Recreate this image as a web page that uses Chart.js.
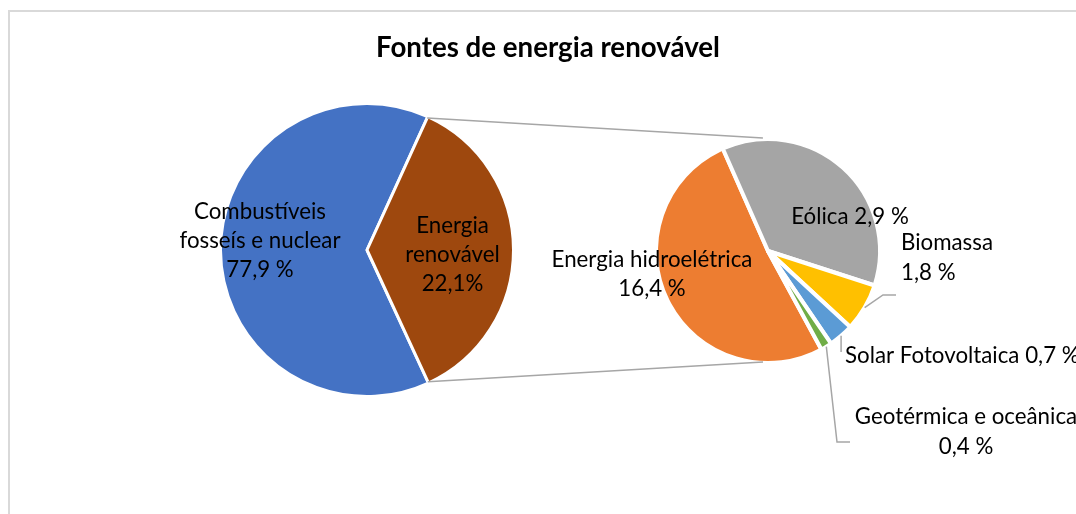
<!DOCTYPE html>
<html>
<head>
<meta charset="utf-8">
<script src="https://cdn.jsdelivr.net/npm/chart.js@4.4.1/dist/chart.umd.min.js"></script>
<style>
  html, body { margin: 0; padding: 0; background: #ffffff; }
  #stage { position: relative; width: 1076px; height: 514px; overflow: hidden; background: #ffffff; }
  #frame { position: absolute; left: 8px; top: 10px; width: 1200px; height: 700px; border: 2px solid #d9d9d9; box-sizing: border-box; }
  canvas { position: absolute; }
  #overlay { left: 0; top: 0; pointer-events: none; }
</style>
</head>
<body>
<div id="stage">
  <div id="frame"></div>
  <canvas id="mainPie" width="300" height="300" style="left:217px;top:100px"></canvas>
  <canvas id="subPie" width="240" height="240" style="left:648px;top:131px"></canvas>
  <canvas id="overlay" width="1076" height="514"></canvas>
</div>
<script>
// ---------------- DATA ----------------
const chartTitle = "Fontes de energia renovável";

// main pie
const mainCategories = ["Combustíveis fosseís e nuclear", "Energia renovável"];
const mainShares = [63.7, 36.3];                 // slice sizes as drawn in the picture
const mainLabelValues = ["77,9 %", "22,1%"];      // values printed in the labels

// secondary pie (breakdown of "Energia renovável")
const subCategories = ["Energia hidroelétrica", "Eólica", "Biomassa", "Solar Fotovoltaica", "Geotérmica e oceânica"];
const subShares = [51.3, 36.6, 6.9, 3.6, 1.6];    // slice sizes as drawn in the picture
const subLabelValues = ["16,4 %", "2,9 %", "1,8 %", "0,7 %", "0,4 %"];

// ---------------- STYLE / LAYOUT ----------------
const mainColors = ["#4472C4", "#9E480E"];
const subColors = ["#ED7D31", "#A5A5A5", "#FFC000", "#5B9BD5", "#70AD47"];
const lineColor = "#A6A6A6";
const textColor = "#000000";
const FONT = "Lato";

const MAIN_BORDER = 3, SUB_BORDER = 4;
const MAIN_R = 145, SUB_R = 110;   // visible radii

// label layout, offsets relative to each pie centre (px)
// lines: how the label text is split: [wordsOfNameOnLine1, ...], value appended where noted
const mainLabelLayout = [
  { dx: -107, dy: -38, lh: 29, align: "center", split: [1], valueOwnLine: true },
  { dx: 85.5, dy: -24, lh: 29, align: "center", split: [1], valueOwnLine: true }
];
const subLabelLayout = [
  { dx: -116, dy: 9, lh: 29, align: "center", split: [], valueOwnLine: true },
  { dx: 82, dy: -34, lh: 29, align: "center", split: [], valueOwnLine: false },
  { dx: 133, dy: -8, lh: 30, align: "left", split: [], valueOwnLine: true,
    leader: [[115, 44], [128, 44]] },
  { dx: 77, dy: 105, lh: 29, align: "left", split: [], valueOwnLine: false,
    leader: [["arc", 101]] },
  { dx: 198, dy: 166, lh: 30, align: "center", split: [], valueOwnLine: true,
    leader: [[69, 191], [82, 191]] }
];

function pieOptions(rotation, radius) {
  return {
    responsive: false,
    animation: false,
    events: [],
    rotation: rotation,
    radius: radius,
    layout: { padding: 0 },
    plugins: { legend: { display: false }, tooltip: { enabled: false }, title: { display: false } }
  };
}

const mainChart = new Chart(document.getElementById("mainPie"), {
  type: "pie",
  data: {
    labels: mainCategories,
    datasets: [{ data: mainShares, backgroundColor: mainColors, borderColor: "#ffffff", borderWidth: MAIN_BORDER }]
  },
  options: pieOptions(155.2, MAIN_R + MAIN_BORDER / 2)
});

const subChart = new Chart(document.getElementById("subPie"), {
  type: "pie",
  data: {
    labels: subCategories,
    datasets: [{ data: subShares, backgroundColor: subColors, borderColor: "#ffffff", borderWidth: SUB_BORDER }]
  },
  options: pieOptions(151.5, SUB_R + SUB_BORDER / 2)
});

// ---------------- OVERLAY (title, labels, connectors) ----------------
function fitSize(ctx, weight, sample, target) {
  ctx.font = weight + " 100px " + FONT;
  const w = ctx.measureText(sample).width;
  return 100 * target / w;
}

function pieInfo(chart, canvasId) {
  const el = document.getElementById(canvasId);
  const ox = el.offsetLeft, oy = el.offsetTop;
  const arcs = chart.getDatasetMeta(0).data.map(a => a.getProps(["x", "y", "startAngle", "endAngle", "outerRadius"], true));
  return { ox, oy, arcs, cx: ox + arcs[0].x, cy: oy + arcs[0].y };
}

function pointAt(info, ang, r) {
  return [info.cx + r * Math.cos(ang), info.cy + r * Math.sin(ang)];
}

function labelLines(name, value, lay) {
  const words = name.split(" ");
  const lines = [];
  let start = 0;
  lay.split.forEach(n => { lines.push(words.slice(start, start + n).join(" ")); start += n; });
  const rest = words.slice(start).join(" ");
  if (lay.valueOwnLine) { lines.push(rest); lines.push(value); }
  else { lines.push(rest + " " + value); }
  return lines;
}

function drawOverlay() {
  const cv = document.getElementById("overlay");
  const ctx = cv.getContext("2d");
  ctx.clearRect(0, 0, cv.width, cv.height);

  const m = pieInfo(mainChart, "mainPie");
  const s = pieInfo(subChart, "subPie");
  const mr = m.arcs[0].outerRadius - MAIN_BORDER / 2;
  const sr = s.arcs[0].outerRadius - SUB_BORDER / 2;

  // connectors between the "Energia renovável" slice and the secondary pie
  const other = m.arcs[1];
  const p1 = pointAt(m, other.startAngle, mr);
  const p2 = pointAt(m, other.endAngle, mr);
  const q1 = pointAt(s, -Math.PI / 2 - 0.045, sr + 3);
  const q2 = pointAt(s, Math.PI / 2 + 0.045, sr + 1);
  ctx.strokeStyle = lineColor;
  ctx.lineWidth = 1.5;
  ctx.beginPath();
  ctx.moveTo(p1[0], p1[1]); ctx.lineTo(q1[0], q1[1]);
  ctx.moveTo(p2[0], p2[1]); ctx.lineTo(q2[0], q2[1]);
  ctx.stroke();

  // leader lines
  ctx.lineWidth = 1.5;
  subLabelLayout.forEach((lay, i) => {
    if (!lay.leader) return;
    const a = s.arcs[i];
    const mid = (a.startAngle + a.endAngle) / 2;
    const start = pointAt(s, mid, sr + 2);
    ctx.beginPath();
    ctx.moveTo(start[0], start[1]);
    lay.leader.forEach(pt => {
      const x = pt[0] === "arc" ? start[0] : s.cx + pt[0];
      ctx.lineTo(x, s.cy + pt[1]);
    });
    ctx.stroke();
  });

  // title
  const titleSize = fitSize(ctx, "bold", chartTitle, 344);
  ctx.font = "bold " + titleSize.toFixed(2) + "px " + FONT;
  ctx.fillStyle = textColor;
  ctx.textAlign = "center";
  ctx.textBaseline = "alphabetic";
  ctx.fillText(chartTitle, 548, 57);

  // labels
  const labelSize = fitSize(ctx, "normal", "Energia hidroelétrica", 201);
  ctx.font = labelSize.toFixed(2) + "px " + FONT;
  ctx.textBaseline = "middle";
  const drawLabel = (info, name, value, lay) => {
    const lines = labelLines(name, value, lay);
    ctx.textAlign = lay.align;
    lines.forEach((t, k) => ctx.fillText(t, info.cx + lay.dx, info.cy + lay.dy + k * lay.lh));
  };
  mainCategories.forEach((c, i) => drawLabel(m, c, mainLabelValues[i], mainLabelLayout[i]));
  subCategories.forEach((c, i) => drawLabel(s, c, subLabelValues[i], subLabelLayout[i]));
}

drawOverlay();
</script>
</body>
</html>
